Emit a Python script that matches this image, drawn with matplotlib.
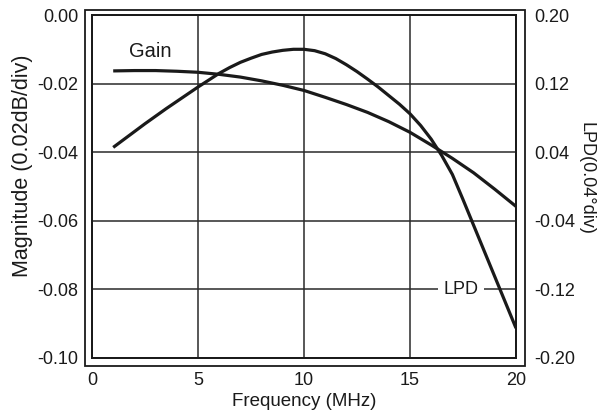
import matplotlib
matplotlib.use("Agg")
import matplotlib.pyplot as plt
from matplotlib.patches import Rectangle

plt.rcParams['font.family'] = ['Liberation Sans', 'DejaVu Sans']

gain_freq = [1, 2, 3, 4, 5, 6, 7, 8, 9, 10, 11, 12, 13, 14, 15, 16, 17, 18, 19, 20]
gain_db = [-0.0163, -0.0162, -0.0162, -0.0164, -0.0167, -0.0173, -0.0181, -0.0192,
           -0.0205, -0.0220, -0.0240, -0.0261, -0.0284, -0.0311, -0.0342, -0.0379,
           -0.0418, -0.0460, -0.0508, -0.0558]
lpd_freq = [1, 1.5, 2, 2.5, 3, 3.5, 4, 4.5, 5, 5.5, 6, 6.5, 7, 7.5, 8, 8.5, 9, 9.5, 10,
            10.5, 11, 11.5, 12, 12.5, 13, 13.5, 14, 14.5, 15, 15.5, 16, 16.5, 17, 17.5,
            18, 18.5, 19, 19.5, 20]
lpd_deg = [0.0456, 0.0548, 0.064, 0.0732, 0.082, 0.0908, 0.0992, 0.1076, 0.116, 0.124,
           0.132, 0.1388, 0.1448, 0.1496, 0.154, 0.1568, 0.1588, 0.160, 0.160, 0.1584,
           0.1548, 0.1492, 0.142, 0.134, 0.1252, 0.116, 0.106, 0.096, 0.0848, 0.0712,
           0.0552, 0.036, 0.014, -0.0152, -0.0452, -0.0752, -0.1052, -0.1352, -0.1652]
x_ticks = [0, 5, 10, 15, 20]
left_ticks = [0.00, -0.02, -0.04, -0.06, -0.08, -0.10]
left_labels = ["0.00", "-0.02", "-0.04", "-0.06", "-0.08", "-0.10"]
right_ticks = [0.20, 0.12, 0.04, -0.04, -0.12, -0.20]
right_labels = ["0.20", "0.12", "0.04", "-0.04", "-0.12", "-0.20"]

W, H = 600, 417
ink = '#1a1a1a'

fig = plt.figure(figsize=(6.0, 4.17), dpi=100)
ax = fig.add_axes([92/W, 1 - 358/H, (516 - 92)/W, (358 - 15)/H])
ax2 = ax.twinx()

ax.set_xlim(0, 20)
ax.set_ylim(-0.10, 0.0)
ax2.set_ylim(-0.20, 0.20)

ax.set_xticks(x_ticks)
ax.set_xticklabels([str(t) for t in x_ticks])
ax.set_yticks(left_ticks)
ax.set_yticklabels(left_labels)
ax2.set_yticks(right_ticks)
ax2.set_yticklabels(right_labels)

ax.grid(True, color='#2a2a2a', linewidth=1.1)
ax.set_axisbelow(True)
for a in (ax, ax2):
    a.tick_params(length=0, labelsize=13, colors=ink)
    for s in a.spines.values():
        s.set_linewidth(1.3)
        s.set_color(ink)
ax.tick_params(axis='y', pad=10)
ax.tick_params(axis='x', pad=10)
ax2.tick_params(axis='y', pad=13)

ax.plot(gain_freq, gain_db, color=ink, linewidth=2.3, solid_capstyle='butt')
ax2.plot(lpd_freq, lpd_deg, color=ink, linewidth=2.3, solid_capstyle='butt')

ax.text(2.75, -0.0105, "Gain", fontsize=14.5, ha='center', va='center', color=ink)
ax.text(17.42, -0.080, "LPD", fontsize=13, ha='center', va='center', color=ink,
        bbox=dict(facecolor='white', edgecolor='none', pad=4))

fig.text(304.5/W, 1 - 401/H, "Frequency (MHz)", fontsize=13.5, ha='center', va='center', color=ink)
fig.text(23/W, 1 - 166/H, "Magnitude (0.02dB/div)", fontsize=15.5, ha='center', va='center',
         rotation=90, color=ink)
fig.text(586/W, 1 - 178/H, "LPD(0.04°div)", fontsize=13, ha='center', va='center',
         rotation=270, color=ink)

fig.patches.append(Rectangle((85/W, 1 - 366/H), (525 - 85)/W, (366 - 10)/H,
                             transform=fig.transFigure, fill=False,
                             edgecolor=ink, linewidth=1.3))

fig.savefig("out.png", dpi=100)
